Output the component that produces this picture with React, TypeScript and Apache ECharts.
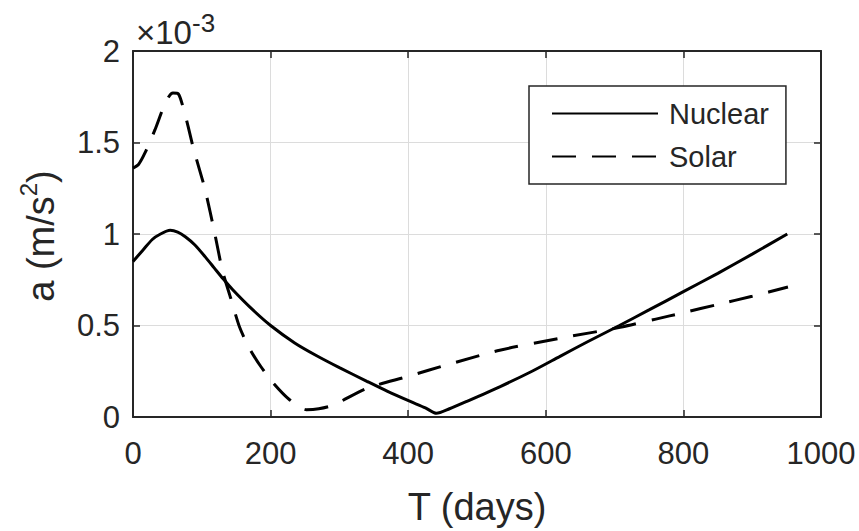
import React, { useEffect, useRef } from "react";
import * as echarts from "echarts";

// Time in days, acceleration in units of 1e-3 m/s^2 (axis shows ×10^-3)
const nuclearDays = [0, 14, 28, 40, 54, 65, 76, 90, 105, 118, 131, 145, 170, 200, 235, 267, 300, 340, 370, 403, 425, 441, 460, 485, 533, 580, 620, 660, 707, 750, 800, 850, 900, 951];
const nuclearAccel = [0.85, 0.91, 0.97, 1.0, 1.02, 1.01, 0.985, 0.94, 0.875, 0.815, 0.755, 0.695, 0.6, 0.5, 0.405, 0.335, 0.27, 0.195, 0.14, 0.085, 0.05, 0.02, 0.045, 0.085, 0.165, 0.25, 0.33, 0.41, 0.5, 0.585, 0.685, 0.785, 0.89, 1.0];

const solarDays = [0, 8, 17, 32, 44, 52, 58, 66, 73, 80, 87, 96, 105, 119, 130, 142, 155, 170, 185, 204, 228, 252, 270, 291, 340, 398, 461, 533, 620, 708, 760, 800, 850, 900, 952];
const solarAccel = [1.36, 1.38, 1.44, 1.57, 1.69, 1.75, 1.77, 1.765, 1.69, 1.59, 1.48, 1.36, 1.24, 1.0, 0.8, 0.65, 0.49, 0.37, 0.28, 0.185, 0.093, 0.04, 0.045, 0.065, 0.157, 0.22, 0.29, 0.365, 0.43, 0.49, 0.535, 0.57, 0.615, 0.66, 0.71];

const seriesNames = ["Nuclear", "Solar"];
const xTitle = "T (days)";
const xRange = [0, 1000, 200];
const yRange = [0, 2, 0.5];

const FONT = "'Liberation Sans', Arial, Helvetica, sans-serif";
const INK = "#262626";
const GRID = "#dcdcdc";

export default function App() {
  const ref = useRef<HTMLDivElement>(null);
  useEffect(() => {
    if (!ref.current) return;
    const chart = echarts.init(ref.current, null, { renderer: "svg" });
    const zip = (xs: number[], ys: number[]) => xs.map((x, i) => [x, ys[i]]);
    const tick = { show: true, inside: true, length: 7, lineStyle: { color: INK, width: 1.5 } };
    const line = { show: true, onZero: false, lineStyle: { color: INK, width: 2 } };
    const option: any = {
      animation: false,
      backgroundColor: "#ffffff",
      textStyle: { fontFamily: FONT, color: INK },
      grid: { left: 133, top: 51, right: 38, bottom: 114, containLabel: false, outerBoundsMode: "none" },
      legend: {
        orient: "vertical",
        left: 529,
        top: 86,
        padding: [13, 17, 13, 22],
        itemWidth: 106,
        itemHeight: 30,
        itemGap: 14,
        borderColor: INK,
        borderWidth: 1.5,
        backgroundColor: "#ffffff",
        data: seriesNames,
        itemStyle: { opacity: 0, borderWidth: 0, color: "rgba(0,0,0,0)" },
        textStyle: { fontSize: 29, color: INK, fontFamily: FONT, padding: [0, 0, 0, 6] },
      },
      xAxis: [
        {
          type: "value",
          min: xRange[0],
          max: xRange[1],
          interval: xRange[2],
          position: "bottom",
          name: xTitle,
          nameLocation: "middle",
          nameGap: 71,
          nameTextStyle: { fontSize: 38, color: INK, fontFamily: FONT, verticalAlign: "top" },
          axisLine: line,
          axisTick: tick,
          axisLabel: { fontSize: 31, color: INK, fontFamily: FONT, margin: 21, formatter: (v: number) => String(v) },
          splitLine: { show: true, lineStyle: { color: GRID, width: 1 } },
        },
        {
          type: "value",
          min: xRange[0],
          max: xRange[1],
          interval: xRange[2],
          position: "top",
          axisLine: line,
          axisTick: tick,
          axisLabel: { show: false },
          splitLine: { show: false },
        },
      ],
      yAxis: [
        {
          type: "value",
          min: yRange[0],
          max: yRange[1],
          interval: yRange[2],
          position: "left",
          axisLine: line,
          axisTick: tick,
          axisLabel: { fontSize: 31, color: INK, fontFamily: FONT, margin: 13, padding: [9, 0, 0, 0] },
          splitLine: { show: true, lineStyle: { color: GRID, width: 1 } },
        },
        {
          type: "value",
          min: yRange[0],
          max: yRange[1],
          interval: yRange[2],
          position: "right",
          axisLine: line,
          axisTick: tick,
          axisLabel: { show: false },
          splitLine: { show: false },
        },
      ],
      graphic: [
        {
          type: "text",
          x: 136,
          y: 32,
          style: {
            text: "{m|×10}{s|-3}",
            textAlign: "left",
            textVerticalAlign: "middle",
            rich: {
              m: { fontSize: 33, fontFamily: FONT, fill: INK, color: INK, lineHeight: 44 },
              s: { fontSize: 26, fontFamily: FONT, fill: INK, color: INK, lineHeight: 6, verticalAlign: "top" },
            },
          },
        },
        {
          type: "text",
          x: 41,
          y: 236,
          rotation: Math.PI / 2,
          style: {
            text: "{m|a (m/s}{s|2}{m|)}",
            textAlign: "center",
            textVerticalAlign: "middle",
            rich: {
              m: { fontSize: 38, fontFamily: FONT, fill: INK, color: INK, lineHeight: 50 },
              s: { fontSize: 24, fontFamily: FONT, fill: INK, color: INK, lineHeight: 14, verticalAlign: "top" },
            },
          },
        },
      ],
      series: [
        {
          name: seriesNames[0],
          type: "line",
          xAxisIndex: 0,
          yAxisIndex: 0,
          data: zip(nuclearDays, nuclearAccel),
          symbol: "none",
          smooth: 0.25,
          lineStyle: { color: "#000000", width: 3, type: "solid" },
          itemStyle: { color: "#000000" },
        },
        {
          name: seriesNames[1],
          type: "line",
          xAxisIndex: 0,
          yAxisIndex: 0,
          data: zip(solarDays, solarAccel),
          symbol: "none",
          smooth: 0.25,
          lineStyle: { color: "#000000", width: 3, type: [24, 16] },
          itemStyle: { color: "#000000" },
        },
      ],
    };
    chart.setOption(option);
    return () => chart.dispose();
  }, []);
  return (
    <div
      ref={ref}
      style={{ position: "absolute", left: 0, top: 0, width: 859, height: 531, background: "#ffffff" }}
    />
  );
}
